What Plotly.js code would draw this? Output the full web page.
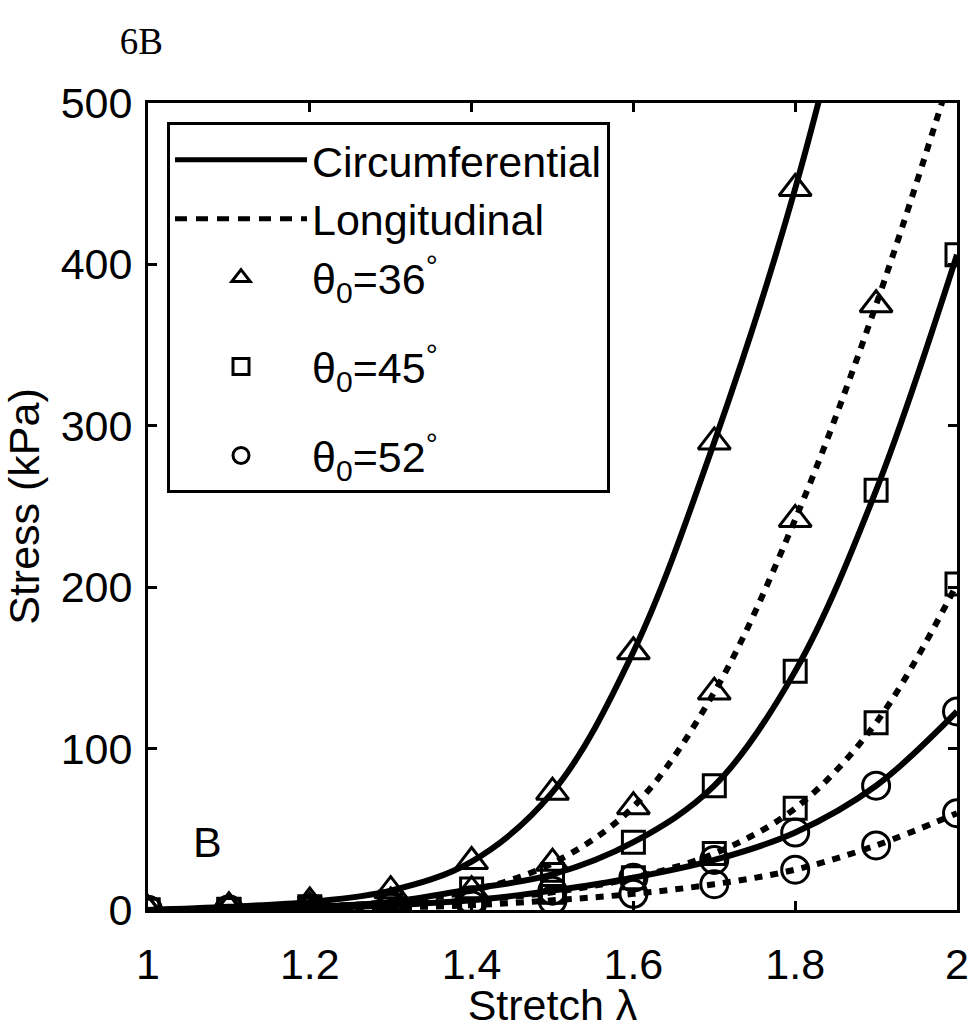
<!DOCTYPE html>
<html>
<head>
<meta charset="utf-8">
<script src="https://cdn.plot.ly/plotly-3.0.1.min.js"></script>
<style>
  html, body { margin: 0; padding: 0; background: #fff; }
  #chart { width: 975px; height: 1029px; }
</style>
</head>
<body>
<div id="chart"></div>
<script>
// Stretch values (x)
const lambda = [1.0, 1.1, 1.2, 1.3, 1.4, 1.5, 1.6, 1.7, 1.8, 1.9, 2.0];

// Stress (kPa), theta0 = 36 deg
const circ36 = [0, 2, 5, 12, 30, 73, 160, 290, 447, 650, 900];
const long36 = [0, 1, 2, 5, 12, 29, 64, 135, 242, 375, 530];
// theta0 = 45 deg
const circ45 = [0, 0.5, 2, 5, 13, 22, 42, 77, 148, 260, 406];
const long45 = [0, 0.3, 1, 3, 6, 11, 20, 35, 63, 116, 202];
// theta0 = 52 deg
const circ52 = [0, 0.3, 1, 3, 6, 12, 20, 31, 48, 77, 123];
const long52 = [0, 0.2, 0.6, 1.5, 3, 6, 10, 16, 25, 40, 60];

const xTicks = [1, 1.2, 1.4, 1.6, 1.8, 2];
const xTickText = ['1', '1.2', '1.4', '1.6', '1.8', '2'];
const yTicks = [0, 100, 200, 300, 400, 500];
const yTickText = ['0', '100', '200', '300', '400', '500'];

const legendLines = ['Circumferential', 'Longitudinal'];
const legendAngles = ['θ<sub>0</sub>=36<sup>°</sup>', 'θ<sub>0</sub>=45<sup>°</sup>', 'θ<sub>0</sub>=52<sup>°</sup>'];

const FONT = '"Liberation Sans", Arial, Helvetica, sans-serif';
const FS = 43;

const symbols = ['triangle-up-open', 'square-open', 'circle-open'];
const msizes = [28, 22, 27];
const DOT = '8px,8px';

function series(y, solid, k) {
  return {
    x: lambda, y: y, type: 'scatter', mode: 'lines+markers', showlegend: false,
    line: {color: '#000', width: 6, shape: 'spline', smoothing: 1, dash: solid ? 'solid' : DOT},
    marker: {symbol: symbols[k], size: msizes[k], color: '#000', line: {color: '#000', width: 3}},
    hoverinfo: 'skip'
  };
}

function legendMarker(k, grp) {
  return {x: [null], y: [null], type: 'scatter', mode: 'markers', name: legendAngles[k], legendgroup: grp,
          marker: {symbol: symbols[k], size: msizes[k], color: '#000', line: {color: '#000', width: 3}}};
}

const data = [
  series(circ36, true, 0), series(long36, false, 0),
  series(circ45, true, 1), series(long45, false, 1),
  series(circ52, true, 2), series(long52, false, 2),
  // legend entries
  {x: [null], y: [null], type: 'scatter', mode: 'lines', name: legendLines[0], legendgroup: 'a',
   line: {color: '#000', width: 5}},
  {x: [null], y: [null], type: 'scatter', mode: 'lines', name: legendLines[1], legendgroup: 'a',
   line: {color: '#000', width: 5, dash: '12px,9px'}},
  legendMarker(0, 'a'),
  legendMarker(1, 'b'),
  legendMarker(2, 'c')
];

const axisCommon = {
  showgrid: false, zeroline: false,
  showline: true, linecolor: '#000', linewidth: 3, mirror: 'allticks',
  ticks: 'inside', ticklen: 9, tickwidth: 3, tickcolor: '#000',
  tickfont: {family: FONT, size: FS, color: '#000'}
};

const layout = {
  width: 975, height: 1029,
  paper_bgcolor: '#fff', plot_bgcolor: '#fff',
  margin: {l: 148, r: 18, t: 103, b: 119},
  title: {text: '6B', font: {family: '"Liberation Serif", "Times New Roman", serif', size: 37, color: '#000'},
          x: 0.145, xanchor: 'center', xref: 'container', y: 0.96, yanchor: 'middle', yref: 'container'},
  xaxis: Object.assign({}, axisCommon, {
    range: [1, 2], tickvals: xTicks, ticktext: xTickText, ticklabelstandoff: 14,
    title: {text: 'Stretch λ', font: {family: FONT, size: FS, color: '#000'}, standoff: 6}
  }),
  yaxis: Object.assign({}, axisCommon, {
    range: [0, 500], tickvals: yTicks, ticktext: yTickText, ticklabelstandoff: 4,
    title: {text: 'Stress (kPa)', font: {family: FONT, size: FS, color: '#000'}, standoff: 14}
  }),
  showlegend: true,
  legend: {
    x: 0.0235, y: 0.976, xanchor: 'left', yanchor: 'top',
    bgcolor: '#fff', bordercolor: '#000', borderwidth: 3,
    font: {family: FONT, size: FS, color: '#000'},
    itemwidth: 132, tracegroupgap: 30, traceorder: 'grouped'
  },
  annotations: [
    {x: 1.073, y: 42, xref: 'x', yref: 'y', text: 'B', showarrow: false,
     font: {family: FONT, size: FS, color: '#000'}, xanchor: 'center', yanchor: 'middle'}
  ]
};

Plotly.newPlot('chart', data, layout, {staticPlot: true, displayModeBar: false});
</script>
</body>
</html>
